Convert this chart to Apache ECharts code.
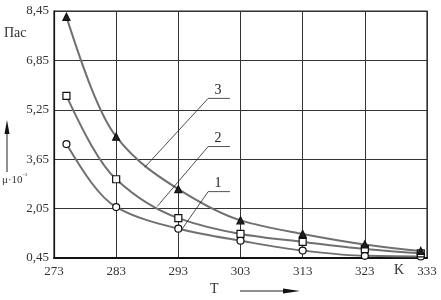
<!DOCTYPE html>
<html><head><meta charset="utf-8">
<script src="https://cdn.jsdelivr.net/npm/echarts@6/dist/echarts.min.js"></script>
<style>html,body{margin:0;padding:0;background:#fff}#c{width:441px;height:300px}</style>
</head><body><div id="c"></div>
<script>
// Data
const temps = [275, 283, 293, 303, 313, 323, 332];
const curve1 = [4.14, 2.10, 1.40, 1.01, 0.69, 0.52, 0.50];
const curve2 = [5.70, 3.00, 1.74, 1.23, 0.97, 0.74, 0.60];
const curve3 = [8.26, 4.38, 2.68, 1.67, 1.23, 0.89, 0.68];
const xTicks = [273, 283, 293, 303, 313, 323, 333];
const yTicks = [0.45, 2.05, 3.65, 5.25, 6.85, 8.45];
const leader1 = [[293.5, 1.36], [297.8, 2.60], [299.4, 2.60], [301.3, 2.60]];
const leader2 = [[289.6, 2.12], [297.8, 4.06], [299.4, 4.06], [301.3, 4.06]];
const leader3 = [[287.6, 3.39], [297.8, 5.62], [299.4, 5.62], [301.3, 5.62]];
const leaderLabels = ['1', '2', '3'];

const font = 'Liberation Serif';
const chart = echarts.init(document.getElementById('c'));
const zip = (a, b) => a.map((v, i) => [v, b[i]]);

// Monotone cubic (Fritsch-Butland) tangents through the data points
function tangents(xs, ys) {
  const n = xs.length, h = [], s = [], d = new Array(n);
  for (let i = 0; i < n - 1; i++) { h[i] = xs[i + 1] - xs[i]; s[i] = (ys[i + 1] - ys[i]) / h[i]; }
  for (let i = 1; i < n - 1; i++) {
    if (s[i - 1] * s[i] <= 0) d[i] = 0;
    else d[i] = 3 * (h[i - 1] + h[i]) / ((2 * h[i] + h[i - 1]) / s[i - 1] + (h[i] + 2 * h[i - 1]) / s[i]);
  }
  const end = (h0, h1, s0, s1) => {
    let v = ((2 * h0 + h1) * s0 - h0 * s1) / (h0 + h1);
    if (v * s0 <= 0) v = 0; else if (Math.abs(v) > 3 * Math.abs(s0)) v = 3 * s0;
    return v;
  };
  d[0] = end(h[0], h[1], s[0], s[1]);
  d[n - 1] = end(h[n - 2], h[n - 3], s[n - 2], s[n - 3]);
  return d;
}
function curvePath(vals) {
  return {
    type: 'custom', silent: true, z: 2,
    data: [[temps[0], vals[0]]],
    renderItem: function (params, api) {
      const d = tangents(temps, vals);
      const p0 = api.coord([temps[0], vals[0]]);
      let path = 'M' + p0[0] + ' ' + p0[1];
      for (let i = 0; i < temps.length - 1; i++) {
        const hh = (temps[i + 1] - temps[i]) / 3;
        const c1 = api.coord([temps[i] + hh, vals[i] + d[i] * hh]);
        const c2 = api.coord([temps[i + 1] - hh, vals[i + 1] - d[i + 1] * hh]);
        const p = api.coord([temps[i + 1], vals[i + 1]]);
        path += ' C' + c1[0] + ' ' + c1[1] + ' ' + c2[0] + ' ' + c2[1] + ' ' + p[0] + ' ' + p[1];
      }
      return { type: 'path', shape: { pathData: path },
        style: { stroke: '#707070', lineWidth: 2, fill: 'none' } };
    }
  };
}
function markers(vals, symbol, fill) {
  return {
    type: 'scatter', data: zip(temps, vals), symbol: symbol, symbolSize: 7,
    itemStyle: { color: fill, borderColor: '#111', borderWidth: 1.2, opacity: 1 },
    z: 3
  };
}
function leader(pts, text) {
  return {
    type: 'line', silent: true, symbol: 'none', z: 4,
    data: pts.map((p, i) => i === 2 ? { value: p, symbol: 'circle', symbolSize: 0.1,
      label: { show: true, formatter: text, position: 'top', distance: 1,
        fontFamily: font, fontSize: 14, color: '#222' } } : p),
    lineStyle: { color: '#222', width: 0.8 }
  };
}
chart.setOption({
  animation: false,
  grid: { left: 54, right: 14, top: 11, bottom: 42, show: true, borderColor: '#222', borderWidth: 1.2 },
  xAxis: {
    type: 'value', min: xTicks[0], max: xTicks[xTicks.length - 1], interval: 10,
    axisLine: { show: true, lineStyle: { color: '#111', width: 2 } },
    axisTick: { show: false },
    splitLine: { show: true, lineStyle: { color: '#333', width: 1 } },
    axisLabel: { fontFamily: font, fontSize: 13, color: '#333', margin: 7 }
  },
  yAxis: {
    type: 'value', min: yTicks[0], max: yTicks[yTicks.length - 1], interval: 1.6,
    axisLine: { show: true, lineStyle: { color: '#111', width: 1.2 } },
    axisTick: { show: false },
    splitLine: { show: true, lineStyle: { color: '#333', width: 1 } },
    axisLabel: { fontFamily: font, fontSize: 13, color: '#333', margin: 5,
      formatter: v => v.toFixed(2).replace('.', ',') }
  },
  series: [
    curvePath(curve1), curvePath(curve2), curvePath(curve3),
    markers(curve1, 'circle', '#fff'),
    markers(curve2, 'rect', '#fff'),
    markers(curve3, 'triangle', '#222'),
    leader(leader1, leaderLabels[0]),
    leader(leader2, leaderLabels[1]),
    leader(leader3, leaderLabels[2])
  ],
  graphic: [
    { type: 'text', left: 4, top: 26, style: { text: 'Пас', fontFamily: font, fontSize: 14, fill: '#333' } },
    { type: 'text', left: 2, top: 175, style: { text: 'μ·10', fontFamily: font, fontSize: 11, fill: '#333' } },
    { type: 'text', left: 23, top: 172, style: { text: '-3', fontFamily: font, fontSize: 5, fill: '#333' } },
    { type: 'line', shape: { x1: 7, y1: 172, x2: 7, y2: 128 }, style: { stroke: '#222', lineWidth: 1 } },
    { type: 'polygon', shape: { points: [[7, 120], [4.5, 134], [9.5, 134]] }, style: { fill: '#111' } },
    { type: 'text', left: 210, top: 282, style: { text: 'T', fontFamily: font, fontSize: 14, fill: '#333' } },
    { type: 'line', shape: { x1: 240, y1: 291, x2: 290, y2: 291 }, style: { stroke: '#222', lineWidth: 1 } },
    { type: 'polygon', shape: { points: [[300, 291], [283, 288.5], [283, 293.5]] }, style: { fill: '#111' } },
    { type: 'text', left: 394, top: 263, style: { text: 'K', fontFamily: font, fontSize: 14, fill: '#333' } }
  ]
});
</script></body></html>
